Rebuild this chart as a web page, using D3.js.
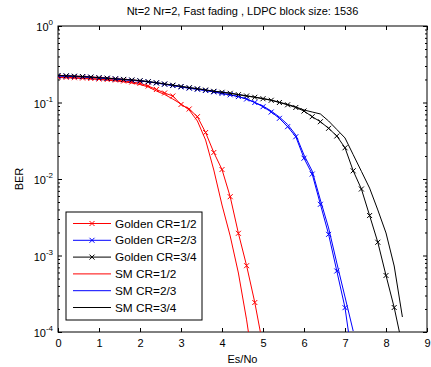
<!DOCTYPE html>
<html>
<head>
<meta charset="utf-8">
<script src="https://cdn.jsdelivr.net/npm/d3@7"></script>
<style>
  body { margin: 0; background: #fff; }
  svg { font-family: "Liberation Sans", Arial, sans-serif; }
</style>
</head>
<body>
<script>
const w = 431;
const h = 367;
const margin = { left: 58, right: 4, top: 26, bottom: 35 };

// Es/No grid of the simulated points (dB)
const esno = [0, 0.2, 0.4, 0.6, 0.8, 1.0, 1.2, 1.4, 1.6, 1.8, 2.0, 2.2, 2.4, 2.6, 2.8,
  3.0, 3.2, 3.4, 3.6, 3.8, 4.0, 4.2, 4.4, 4.6, 4.8, 5.0, 5.2, 5.4, 5.6, 5.8,
  6.0, 6.2, 6.4, 6.6, 6.8, 7.0, 7.2, 7.4, 7.6, 7.8, 8.0, 8.2, 8.4];

// BER values
const goldenHalf = [0.2155, 0.2135, 0.211, 0.2089, 0.206, 0.2029, 0.2, 0.1968, 0.191, 0.1854,
  0.1782, 0.1643, 0.148, 0.1331, 0.1216, 0.0942, 0.0822, 0.0652, 0.0405, 0.0222,
  0.0133, 0.00587, 0.00195, 0.000736, 0.000243, 0.0000656];
const goldenTwoThirds = [0.222, 0.2205, 0.2185, 0.2165, 0.2135, 0.2095, 0.2065, 0.203, 0.199, 0.195,
  0.191, 0.186, 0.18, 0.1735, 0.1665, 0.1596, 0.154, 0.149, 0.1435, 0.1375,
  0.1312, 0.126, 0.1195, 0.1111, 0.1, 0.0881, 0.0751, 0.0621, 0.0483, 0.0357,
  0.0187, 0.0116, 0.00467, 0.00189, 0.000627, 0.000208, 0.000037];
const goldenThreeQuarters = [0.2254, 0.2234, 0.2208, 0.2182, 0.2148, 0.211, 0.2078, 0.2041, 0.2004, 0.1968,
  0.1927, 0.187, 0.181, 0.1745, 0.1683, 0.1619, 0.156, 0.151, 0.1456, 0.14,
  0.1359, 0.1318, 0.1265, 0.1216, 0.117, 0.112, 0.1069, 0.1, 0.0933, 0.0861,
  0.0774, 0.0652, 0.0561, 0.046, 0.0365, 0.0256, 0.0128, 0.0074, 0.00333, 0.00149,
  0.000548, 0.000209, 0.0000656];
const smHalf = [0.2123, 0.2104, 0.2084, 0.206, 0.2029, 0.2, 0.1958, 0.1915, 0.1865, 0.1799,
  0.1718, 0.1596, 0.1413, 0.1272, 0.1111, 0.0955, 0.0798, 0.0573, 0.0323, 0.0131,
  0.00457, 0.0018, 0.00059, 0.000144, 0.0000274];
const smTwoThirds = [0.222, 0.2205, 0.2185, 0.2165, 0.2135, 0.2095, 0.2065, 0.203, 0.199, 0.195,
  0.191, 0.186, 0.18, 0.1735, 0.1665, 0.1596, 0.154, 0.149, 0.1435, 0.1375,
  0.1312, 0.126, 0.1195, 0.1111, 0.1, 0.09, 0.0774, 0.0646, 0.0516, 0.0376,
  0.0206, 0.0127, 0.00531, 0.00229, 0.000798, 0.000287, 0.000103];
const smThreeQuarters = [0.2262, 0.2242, 0.2215, 0.2188, 0.2155, 0.2117, 0.2085, 0.2048, 0.201, 0.1975,
  0.1935, 0.1878, 0.1818, 0.1752, 0.169, 0.1626, 0.1567, 0.1517, 0.1463, 0.1407,
  0.1366, 0.1325, 0.1272, 0.1223, 0.1177, 0.1127, 0.1076, 0.1007, 0.0945, 0.0875,
  0.0798, 0.0751, 0.0708, 0.0573, 0.0444, 0.0344, 0.0208, 0.0126, 0.0076, 0.00394,
  0.00197, 0.000729, 0.000157];

const seriesNames = ["Golden CR=1/2", "Golden CR=2/3", "Golden CR=3/4", "SM CR=1/2", "SM CR=2/3", "SM CR=3/4"];
const seriesColors = ["#ff0000", "#0000ff", "#000000", "#ff0000", "#0000ff", "#000000"];
const seriesMarkers = [true, true, true, false, false, false];
const seriesValues = [goldenHalf, goldenTwoThirds, goldenThreeQuarters, smHalf, smTwoThirds, smThreeQuarters];

const xTicks = [0, 1, 2, 3, 4, 5, 6, 7, 8, 9];
const yTicks = [1, 0.1, 0.01, 0.001, 0.0001];
const yExponents = ["0", "-1", "-2", "-3", "-4"];

const svg = d3.select("body").append("svg").attr("width", w).attr("height", h);

const x = d3.scaleLinear().domain([0, 9]).range([margin.left, w - margin.right]);
const y = d3.scaleLog().domain([1e-4, 1]).range([h - margin.bottom, margin.top]);

svg.append("defs").append("clipPath").attr("id", "plot")
  .append("rect")
  .attr("x", x(0)).attr("y", y(1))
  .attr("width", x(9) - x(0)).attr("height", y(1e-4) - y(1));

// minor log ticks
let minor = [];
for (let e = -4; e < 0; e++) {
  for (let k = 2; k < 10; k++) minor.push(k * Math.pow(10, e));
}

// axes, MATLAB style: ticks inside on all four sides
const axisStyle = (g) => {
  g.select(".domain").remove();
  g.selectAll("line").attr("stroke", "#000").attr("stroke-width", 1);
  g.selectAll("text").attr("font-size", 11).attr("fill", "#000");
};

svg.append("g")
  .attr("transform", "translate(0," + y(1e-4) + ")")
  .call(d3.axisBottom(x).tickValues(xTicks).tickSize(-4).tickPadding(7).tickFormat(d3.format("d")))
  .call(axisStyle);
svg.append("g")
  .attr("transform", "translate(0," + y(1) + ")")
  .call(d3.axisTop(x).tickValues(xTicks).tickSize(-4).tickFormat(""))
  .call(axisStyle);

const yAxis = svg.append("g")
  .attr("transform", "translate(" + x(0) + ",0)")
  .call(d3.axisLeft(y).tickValues(yTicks).tickSize(-4).tickPadding(5).tickFormat(""))
  .call(axisStyle);
yAxis.selectAll(".tick text")
  .attr("font-size", 11)
  .attr("dy", "0.45em")
  .each(function (d, i) {
    const t = d3.select(this);
    t.append("tspan").text("10");
    t.append("tspan").attr("font-size", 8).attr("dy", "-0.75em").text(yExponents[i]);
  });
svg.append("g")
  .attr("transform", "translate(" + x(0) + ",0)")
  .call(d3.axisLeft(y).tickValues(minor).tickSize(-2).tickFormat(""))
  .call(axisStyle);
svg.append("g")
  .attr("transform", "translate(" + x(9) + ",0)")
  .call(d3.axisRight(y).tickValues(yTicks).tickSize(-4).tickFormat(""))
  .call(axisStyle);
svg.append("g")
  .attr("transform", "translate(" + x(9) + ",0)")
  .call(d3.axisRight(y).tickValues(minor).tickSize(-2).tickFormat(""))
  .call(axisStyle);

// frame
svg.append("rect")
  .attr("x", x(0)).attr("y", y(1))
  .attr("width", x(9) - x(0)).attr("height", y(1e-4) - y(1))
  .attr("fill", "none").attr("stroke", "#000").attr("stroke-width", 1);

// curves
const line = d3.line().x((d) => x(d[0])).y((d) => y(d[1]));
const plot = svg.append("g").attr("clip-path", "url(#plot)");

function xMark(g, cx, cy, color) {
  const s = 2.5;
  g.append("path")
    .attr("d", "M" + (cx - s) + "," + (cy - s) + "L" + (cx + s) + "," + (cy + s) +
      "M" + (cx - s) + "," + (cy + s) + "L" + (cx + s) + "," + (cy - s))
    .attr("stroke", color).attr("stroke-width", 1).attr("fill", "none");
}

// draw SM first, Golden on top
[3, 4, 5, 0, 1, 2].forEach((i) => {
  const pts = seriesValues[i].map((v, j) => [esno[j], v]);
  plot.append("path")
    .datum(pts)
    .attr("d", line)
    .attr("fill", "none")
    .attr("stroke", seriesColors[i])
    .attr("stroke-width", 1);
  if (seriesMarkers[i]) {
    const mg = plot.append("g");
    pts.forEach((p) => xMark(mg, x(p[0]), y(p[1]), seriesColors[i]));
  }
});

// labels
svg.append("text")
  .attr("x", (x(0) + x(9)) / 2).attr("y", 15)
  .attr("text-anchor", "middle").attr("font-size", 11)
  .text("Nt=2 Nr=2, Fast fading , LDPC block size: 1536");
svg.append("text")
  .attr("x", (x(0) + x(9)) / 2).attr("y", 363)
  .attr("text-anchor", "middle").attr("font-size", 11)
  .text("Es/No");
svg.append("text")
  .attr("transform", "translate(23," + ((y(1) + y(1e-4)) / 2) + ") rotate(-90)")
  .attr("text-anchor", "middle").attr("font-size", 11)
  .text("BER");

// legend
const lg = svg.append("g");
lg.append("rect")
  .attr("x", 66).attr("y", 212)
  .attr("width", 136).attr("height", 108)
  .attr("fill", "#fff").attr("stroke", "#000").attr("stroke-width", 1);
seriesNames.forEach((name, i) => {
  const ly = 223.5 + i * 16.8;
  lg.append("line")
    .attr("x1", 73).attr("x2", 111).attr("y1", ly).attr("y2", ly)
    .attr("stroke", seriesColors[i]).attr("stroke-width", 1);
  if (seriesMarkers[i]) xMark(lg, 92, ly, seriesColors[i]);
  lg.append("text")
    .attr("x", 115).attr("y", ly + 4)
    .attr("font-size", 11.8)
    .text(name);
});
</script>
</body>
</html>
